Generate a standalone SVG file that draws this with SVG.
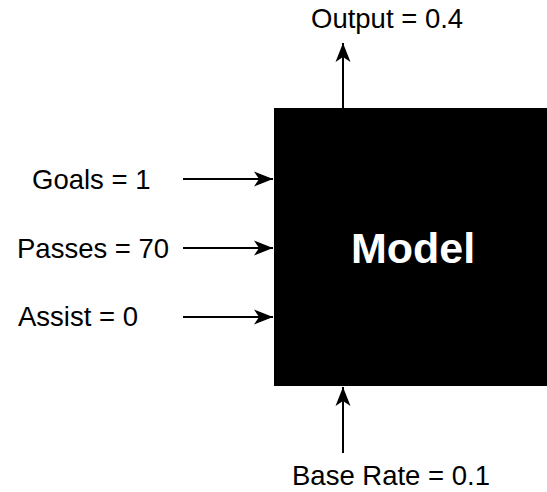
<svg xmlns="http://www.w3.org/2000/svg" width="547" height="492" viewBox="0 0 547 492">
<style>
.lbl{font-family:"Liberation Sans",Arial,sans-serif;font-size:27.5px;fill:#000}
.conn{stroke:#000;stroke-width:2;fill:none}
</style>
<defs>
<marker id="arr" markerUnits="userSpaceOnUse" markerWidth="24" markerHeight="20" viewBox="-20 -10 24 20" refX="0" refY="0" orient="auto">
<path d="M0,0 L-19,-7.5 L-14,0 L-19,7.5 Z" fill="#000"/>
</marker>
</defs>
<rect width="547" height="492" fill="#fff"/>
<g id="model">
<rect x="274" y="108" width="278" height="278" fill="#000"/>
<text x="413" y="263" text-anchor="middle" font-family="Liberation Sans,Arial,sans-serif" font-weight="bold" font-size="43" fill="#fff">Model</text>
</g>
<g id="goals"><text class="lbl" x="32" y="189">Goals = 1</text></g>
<g id="passes"><text class="lbl" x="17" y="258">Passes = 70</text></g>
<g id="assist"><text class="lbl" x="18" y="326">Assist = 0</text></g>
<g id="output"><text class="lbl" x="311" y="28">Output = 0.4</text></g>
<g id="baserate"><text class="lbl" x="292" y="485">Base Rate = 0.1</text></g>
<g id="connectors">
<line class="conn" x1="183" y1="179" x2="273" y2="179" marker-end="url(#arr)"/>
<line class="conn" x1="183" y1="248" x2="273" y2="248" marker-end="url(#arr)"/>
<line class="conn" x1="183" y1="317" x2="273" y2="317" marker-end="url(#arr)"/>
<line class="conn" x1="343" y1="108" x2="343" y2="43" marker-end="url(#arr)"/>
<line class="conn" x1="343" y1="453" x2="343" y2="387" marker-end="url(#arr)"/>
</g>
</svg>
